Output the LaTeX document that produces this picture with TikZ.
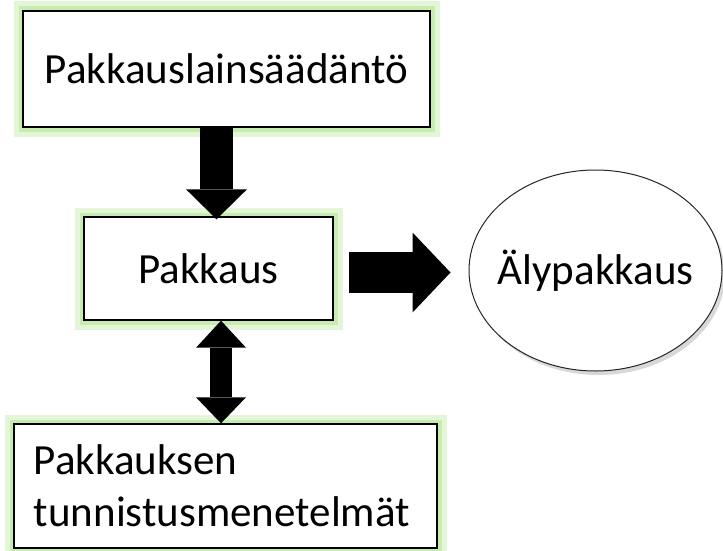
\documentclass[tikz,border=0pt]{standalone}
\usepackage{fontspec}
\setmainfont{Carlito}
\usetikzlibrary{arrows.meta,shapes.geometric,shadows}
\definecolor{glowgreen}{RGB}{176,228,140}

\begin{document}
\begin{tikzpicture}[x=1pt, y=-1pt,
  every node/.style={font=\fontsize{43}{52}\selectfont},
  box/.style={draw=black, line width=1.4pt, fill=white, rectangle,
    preaction={draw=glowgreen!35, line width=19pt, rounded corners=6pt},
    preaction={draw=glowgreen!70, line width=9pt}},
  blockarrow/.style={draw=black, line cap=butt}]
\useasboundingbox (0,0) rectangle (723,551);
\node[box, minimum width=407, minimum height=116] (laki) at (226.5, 69) {Pakkauslainsäädäntö};
\node[box, minimum width=249, minimum height=103] (pakkaus) at (208.5, 268.5) {Pakkaus};
\node[box, minimum width=423, minimum height=124, text width=383, align=left] (tunnistus) at (225.5, 486) {Pakkauksen\\tunnistusmenetelmät};
\node[ellipse, draw=black!85, line width=1pt, fill=white, inner sep=0pt, minimum width=253, minimum height=201,
  drop shadow={shadow xshift=3pt, shadow yshift=-4pt, fill=black!30}] (aly) at (595.5, 270.5) {\makebox[0pt]{Älypakkaus}};
\draw[blockarrow, line width=33pt, -{Triangle[width=61pt, length=30pt, line width=0pt]}]
  ([xshift=-10pt]laki.south) -- ([xshift=8pt, yshift=-3pt]pakkaus.north);
\draw[blockarrow, line width=41pt, -{Triangle[width=80pt, length=38pt, line width=0pt]}]
  ([xshift=15pt, yshift=-4pt]pakkaus.east) -- ([xshift=-18pt, yshift=-2pt]aly.west);
\draw[blockarrow, line width=22pt, {Triangle[width=50pt, length=27pt, line width=0pt]}-{Triangle[width=50pt, length=26pt, line width=0pt]}]
  ([xshift=12.5pt]pakkaus.south) -- ([xshift=-4.5pt]tunnistus.north);
\end{tikzpicture}
\end{document}
